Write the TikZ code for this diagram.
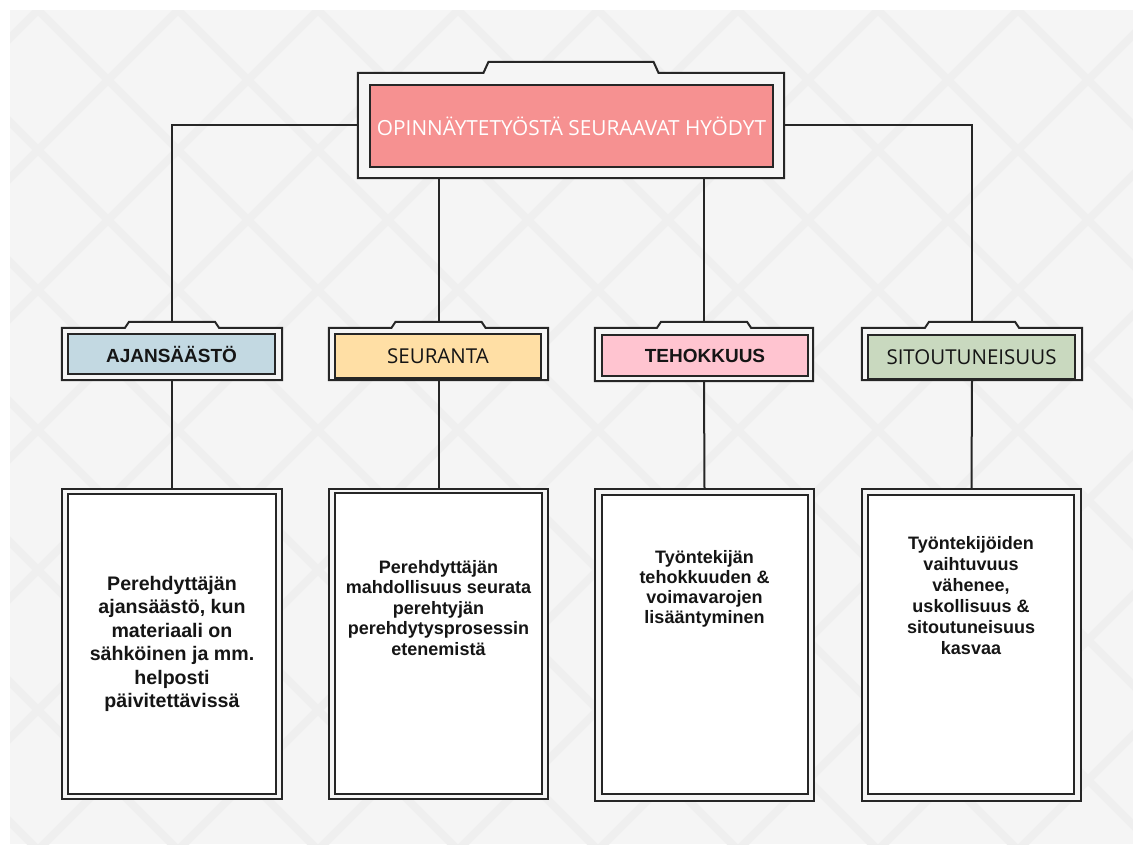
\documentclass[tikz,border=0pt]{standalone}
\usepackage{fontspec}
\usetikzlibrary{calc}
\newfontfamily\osans{Open Sans}
\newfontfamily\lsans{Liberation Sans}
\definecolor{bggray}{HTML}{F5F5F5}
\definecolor{latgray}{HTML}{EFEFEF}
\definecolor{ink}{HTML}{262626}
\definecolor{txtink}{HTML}{151515}
\definecolor{titlered}{HTML}{F69191}
\definecolor{cblue}{HTML}{C3D9E2}
\definecolor{corange}{HTML}{FFDFA5}
\definecolor{cpink}{HTML}{FFC4D0}
\definecolor{cgreen}{HTML}{C9D9BF}
\tikzset{
  lat/.style={latgray,line width=8pt,line cap=round},
  frameshape/.style={draw=none,inner sep=0pt},
  framedraw/.style={draw=ink,line width=2pt,line join=miter,fill=bggray},
  inbox/.style={draw=ink,line width=2.4pt,inner sep=0pt},
  conn/.style={draw=ink,line width=2pt},
  titletxt/.style={font=\osans\fontsize{20.8}{24}\selectfont,text=white},
  cattxtb/.style={font=\lsans\bfseries\fontsize{19}{22}\selectfont,text=txtink},
  cattxtr/.style={font=\osans\fontsize{20.5}{24}\selectfont,text=txtink},
  bodytxt/.style={font=\lsans\bfseries\fontsize{18}{20.5}\selectfont,text=txtink,align=center,inner sep=0pt}
}
% tab frame: #1 node name, #2 half width of tab top, #3 tab rise, #4 slope width
\newcommand{\tabframe}[4]{%
  \draw[framedraw] (#1.south west) -- ($(#1.north west)+(0,#3)$)
    -- ($(#1.north)+(-#2-#4,#3)$) -- ($(#1.north)+(-#2,0)$)
    -- ($(#1.north)+(#2,0)$) -- ($(#1.north)+(#2+#4,#3)$)
    -- ($(#1.north east)+(0,#3)$) -- (#1.south east) -- cycle;}
\begin{document}
\begin{tikzpicture}[x=1pt,y=-1pt]
\useasboundingbox (0,0) rectangle (1133,844);
\fill[white] (0,0) rectangle (1133,844);
\fill[bggray] (10,10) rectangle (1133,844);
\begin{scope}
  \clip (10,10) rectangle (1133,844);
  \foreach \k in {-1,...,14} {
    \pgfmathsetmacro\c{48+140*\k}
    \draw[lat] (\c+10,-10) -- (\c-870,870);
  }
  \foreach \k in {-8,...,8} {
    \pgfmathsetmacro\d{28+140*\k}
    \draw[lat] (\d-10,-10) -- (\d+870,870);
  }
\end{scope}

% frame placeholders
\node[frameshape,minimum width=426pt,minimum height=116pt] (top) at (571,120) {};
\node[frameshape,minimum width=220pt,minimum height=58pt] (c1) at (172,351) {};
\node[frameshape,minimum width=219pt,minimum height=58pt] (c2) at (438.5,351) {};
\node[frameshape,minimum width=218pt,minimum height=59pt] (c3) at (704,351.5) {};
\node[frameshape,minimum width=220pt,minimum height=58pt] (c4) at (972,351) {};

% connectors
\coordinate (topL) at (358,125);
\coordinate (topR) at (784,125);
\draw[conn] (topL) -| (c1.north);
\draw[conn] (topR) -| (c4.north);
\draw[conn] (c2.north) -- (c2.north |- top.south);
\draw[conn] (c3.north) -- (c3.north |- top.south);

% text box frames
\node[frameshape,minimum width=220pt,minimum height=310pt] (t1) at (172,644) {};
\node[frameshape,minimum width=219pt,minimum height=310pt] (t2) at (438.5,644) {};
\node[frameshape,minimum width=219pt,minimum height=312pt] (t3) at (704.5,645) {};
\node[frameshape,minimum width=219pt,minimum height=312pt] (t4) at (971.5,645) {};
\draw[conn] (c1.south) -- (t1.north);
\draw[conn] (c2.south) -- (t2.north);
\draw[conn] (c3.south) -- (t3.north);
\draw[conn] (c4.south) -- (t4.north);

% top frame
\tabframe{top}{82.5}{11}{5}
\node[inbox,fill=titlered,minimum width=403pt,minimum height=82pt] (title) at (571.5,126) {};
\node[titletxt] (titletext) at (title.center) {OPINNÄYTETYÖSTÄ SEURAAVAT HYÖDYT};

% category frames
\tabframe{c1}{43}{6}{4}
\tabframe{c2}{43}{6}{4}
\tabframe{c3}{43}{6}{4}
\tabframe{c4}{43}{6}{4}
\node[inbox,fill=cblue,minimum width=207pt,minimum height=40pt] (k1) at (171.5,354) {};
\node[inbox,fill=corange,minimum width=206pt,minimum height=44pt] (k2) at (438,356) {};
\node[inbox,fill=cpink,minimum width=206pt,minimum height=41pt] (k3) at (705,355.5) {};
\node[inbox,fill=cgreen,minimum width=207pt,minimum height=44pt] (k4) at (971.5,357) {};
\node[cattxtb] (k1t) at (k1.center) {AJANSÄÄSTÖ};
\node[cattxtr] (k2t) at (k2.center) {SEURANTA};
\node[cattxtb] (k3t) at (k3.center) {TEHOKKUUS};
\node[cattxtr] (k4t) at (k4.center) {SITOUTUNEISUUS};

% text boxes
\foreach \n in {t1,t2,t3,t4} {\draw[framedraw] (\n.south west) rectangle (\n.north east);}
\node[inbox,fill=white,minimum width=208pt,minimum height=300pt] (i1) at (172,644) {};
\node[inbox,fill=white,minimum width=207pt,minimum height=301pt] (i2) at (438.5,643.5) {};
\node[inbox,fill=white,minimum width=206pt,minimum height=299pt] (i3) at (705,644.5) {};
\node[inbox,fill=white,minimum width=206pt,minimum height=299pt] (i4) at (971,644.5) {};
\node[bodytxt,font=\lsans\bfseries\fontsize{19.6}{23.5}\selectfont] (b1) at (172,644) {Perehdyttäjän\\ajansäästö, kun\\materiaali on\\sähköinen ja mm.\\helposti\\päivitettävissä};
\node[bodytxt] (b2) at (438.5,608) {Perehdyttäjän\\mahdollisuus seurata\\perehtyjän\\perehdytysprosessin\\etenemistä};
\node[bodytxt,font=\lsans\bfseries\fontsize{18}{19.8}\selectfont] (b3) at (704.5,589) {Työntekijän\\tehokkuuden \&\\voimavarojen\\lisääntyminen};
\node[bodytxt,font=\lsans\bfseries\fontsize{18}{21}\selectfont] (b4) at (971,595.5) {Työntekijöiden\\vaihtuvuus\\vähenee,\\uskollisuus \&\\sitoutuneisuus\\kasvaa};
\end{tikzpicture}
\end{document}
